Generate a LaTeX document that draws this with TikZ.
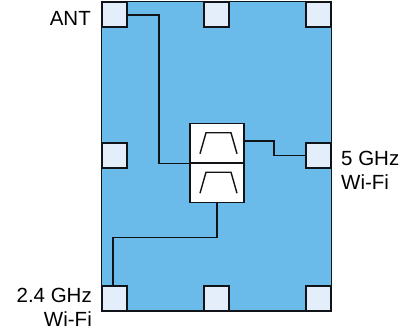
\documentclass[tikz,border=0pt]{standalone}
\usepackage{fontspec}
\setmainfont{Liberation Sans}
\definecolor{chipblue}{HTML}{6BBBEA}
\definecolor{padblue}{HTML}{E3EEFA}
\definecolor{edgeblack}{HTML}{101418}
\begin{document}
\begin{tikzpicture}
[
    x=1pt, y=-1pt,
    wire/.style={draw=edgeblack, line width=1.4pt},
    chip/.style={draw=edgeblack, fill=chipblue, line width=1.4pt, minimum width=230pt, minimum height=309.5pt, inner sep=0pt},
    pad/.style={draw=edgeblack, fill=padblue, line width=1.4pt, minimum size=25pt, inner sep=0pt},
    filterbox/.style={draw=edgeblack, fill=white, line width=1.4pt, minimum width=54pt, minimum height=39.5pt, inner sep=0pt},
    portlabel/.style={font=\fontsize{20.5}{24}\selectfont, inner sep=0pt, text=black},
]
\useasboundingbox (0,0) rectangle (414,333);
\node [chip] (package) at (216.5,156.25) {};

\node [pad] (padANT) at (114.5,14.5) {};
\node [pad] (padTop) at (216.5,14.5) {};
\node [pad] (padTopR) at (318.5,14.5) {};
\node [pad] (padLeft) at (114.5,155.5) {};
\node [pad] (pad5G) at (318.5,155.5) {};
\node [pad] (pad24G) at (114.5,298.5) {};
\node [pad] (padBot) at (216.5,298.5) {};
\node [pad] (padBotR) at (318.5,298.5) {};

\node [filterbox] (filterHigh) at (217,143.25) {};
\node [filterbox] (filterLow) at (217,182.75) {};
\draw [wire, line join=miter] ([shift={(-17,10.5)}]filterHigh.center) -- ++(6,-21) -- ++(25,0) -- ++(6,21);
\draw [wire, line join=miter] ([shift={(-17,10.5)}]filterLow.center) -- ++(6,-21) -- ++(25,0) -- ++(6,21);

\coordinate (bendANT) at (159,15);
\coordinate (bend5G) at (274,141);
\coordinate (bend24G) at (113,237.5);
\draw [wire] (padANT.east |- bendANT) -- (bendANT) |- (filterHigh.south west);
\draw [wire] (filterHigh.east |- bend5G) -- (bend5G) |- (pad5G.west);
\draw [wire] (filterLow.south) |- (bend24G) -- (bend24G |- pad24G.north);

\node [portlabel, anchor=base east] (labelANT) at (91,25) {ANT};
\node [portlabel, anchor=base west] (label5G) at (341,165) {5 GHz};
\node [portlabel, anchor=base west] (label5Gb) at (341,189) {Wi-Fi};
\node [portlabel, anchor=base east] (label24G) at (92,302) {2.4 GHz};
\node [portlabel, anchor=base east] (label24Gb) at (92,326) {Wi-Fi};
\end{tikzpicture}
\end{document}
